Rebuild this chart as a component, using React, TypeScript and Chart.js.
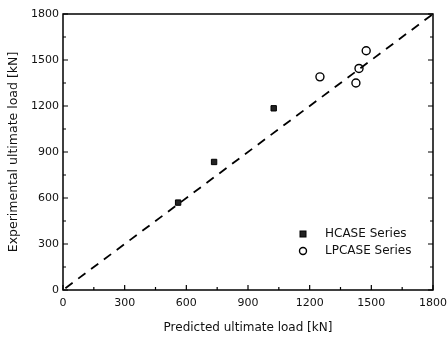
import React, { useEffect, useRef } from "react";
import { Chart, registerables } from "chart.js";

Chart.register(...registerables);

const hcaseX = [560, 735, 1025];
const hcaseY = [570, 835, 1185];
const lpcaseX = [1250, 1425, 1440, 1475];
const lpcaseY = [1390, 1350, 1445, 1560];
const refLineX = [0, 1800];
const refLineY = [0, 1800];
const tickValues = [0, 300, 600, 900, 1200, 1500, 1800];
const xTitle = "Predicted ultimate load [kN]";
const yTitle = "Experimental ultimate load [kN]";
const legendLabels = ["HCASE Series", "LPCASE Series"];

const FONT = "'DejaVu Sans', Verdana, sans-serif";

const framePlugin = {
  id: "frameTicks",
  afterDraw(chart: any) {
    const { ctx, chartArea, scales } = chart;
    const { left, right, top, bottom } = chartArea;
    ctx.save();
    ctx.strokeStyle = "#000";
    ctx.lineWidth = 1.5;
    ctx.strokeRect(left, top, right - left, bottom - top);
    ctx.lineWidth = 1.2;
    for (let v = 0; v <= 1800; v += 150) {
      const major = v % 300 === 0;
      const len = major ? 5 : 3;
      const px = scales.x.getPixelForValue(v);
      const py = scales.y.getPixelForValue(v);
      ctx.beginPath();
      ctx.moveTo(px, bottom);
      ctx.lineTo(px, bottom - len);
      ctx.moveTo(left, py);
      ctx.lineTo(left + len, py);
      ctx.moveTo(right, py);
      ctx.lineTo(right - len, py);
      ctx.stroke();
    }
    // legend
    const lx = 303;
    const ly1 = 234;
    const ly2 = 251;
    ctx.fillStyle = "#222";
    ctx.strokeStyle = "#000";
    ctx.lineWidth = 1;
    ctx.fillRect(lx - 3, ly1 - 3, 6, 6);
    ctx.strokeRect(lx - 3, ly1 - 3, 6, 6);
    ctx.lineWidth = 1.4;
    ctx.beginPath();
    ctx.arc(lx, ly2, 3.5, 0, Math.PI * 2);
    ctx.stroke();
    ctx.fillStyle = "#111";
    ctx.font = `12px ${FONT}`;
    ctx.textBaseline = "middle";
    ctx.textAlign = "left";
    ctx.fillText(legendLabels[0], 325, ly1);
    ctx.fillText(legendLabels[1], 325, ly2);
    ctx.restore();
  },
};

export default function App() {
  const ref = useRef<HTMLCanvasElement>(null);
  useEffect(() => {
    document.body.style.margin = "0";
    const chart = new Chart(ref.current!, {
      type: "scatter",
      data: {
        datasets: [
          {
            label: "ref",
            data: refLineX.map((x, i) => ({ x, y: refLineY[i] })),
            showLine: true,
            borderColor: "#000",
            borderWidth: 1.8,
            borderDash: [9, 7],
            borderDashOffset: -3,
            pointRadius: 0,
            fill: false,
          },
          {
            label: legendLabels[0],
            data: hcaseX.map((x, i) => ({ x, y: hcaseY[i] })),
            pointStyle: "rect",
            pointRadius: 3.8,
            backgroundColor: "#222",
            borderColor: "#000",
            borderWidth: 1,
          },
          {
            label: legendLabels[1],
            data: lpcaseX.map((x, i) => ({ x, y: lpcaseY[i] })),
            pointStyle: "circle",
            pointRadius: 4,
            backgroundColor: "rgba(255,255,255,0)",
            borderColor: "#000",
            borderWidth: 1.4,
          },
        ],
      },
      options: {
        animation: false,
        responsive: false,
        layout: { padding: { left: 0, right: 15, top: 14, bottom: 0 } },
        plugins: { legend: { display: false }, tooltip: { enabled: false } },
        scales: {
          x: {
            type: "linear",
            min: 0,
            max: 1800,
            afterBuildTicks: (s: any) => {
              s.ticks = tickValues.map((v) => ({ value: v }));
            },
            afterFit: (s: any) => {
              s.height = 49;
              s.paddingRight = 0;
              s.paddingLeft = 0;
            },
            grid: { display: false, drawTicks: false },
            border: { display: false },
            ticks: {
              color: "#111",
              font: { family: FONT, size: 11 },
              padding: 7,
              maxRotation: 0,
              callback: (v: any) => String(v),
            },
            title: {
              display: true,
              text: xTitle,
              color: "#111",
              font: { family: FONT, size: 12 },
              padding: { top: 0, bottom: 4 },
            },
          },
          y: {
            type: "linear",
            min: 0,
            max: 1800,
            afterBuildTicks: (s: any) => {
              s.ticks = tickValues.map((v) => ({ value: v }));
            },
            afterFit: (s: any) => {
              s.width = 63;
              s.paddingTop = 0;
              s.paddingBottom = 0;
            },
            grid: { display: false, drawTicks: false },
            border: { display: false },
            ticks: {
              color: "#111",
              font: { family: FONT, size: 11 },
              padding: 4,
              callback: (v: any) => String(v),
            },
            title: {
              display: true,
              text: yTitle,
              color: "#111",
              font: { family: FONT, size: 12.5 },
              padding: { top: 6, bottom: 0 },
            },
          },
        },
      },
      plugins: [framePlugin],
    } as any);
    return () => chart.destroy();
  }, []);
  return <canvas ref={ref} width={448} height={339} style={{ display: "block" }} />;
}
